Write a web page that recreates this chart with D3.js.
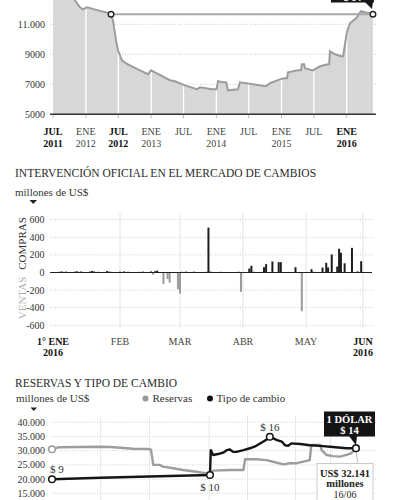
<!DOCTYPE html>
<html><head><meta charset="utf-8">
<script src="https://cdn.jsdelivr.net/npm/d3@7"></script>
<style>body{margin:0;background:#fff}svg{display:block}text{font-family:"Liberation Serif",serif;fill:#333}</style>
</head><body><svg id="c" width="400" height="500"></svg>
<script>
// ---------- Chart 1 data ----------
const topDates = ["2011-07-01","2011-10-15","2011-11-01","2011-11-29","2011-12-16","2012-01-07","2012-03-10","2012-05-15","2012-06-01","2012-06-18","2012-06-29","2012-07-21","2012-08-13","2012-10-30","2012-12-14","2012-12-31","2013-01-22","2013-04-16","2013-05-14","2013-07-09","2013-09-14","2013-10-01","2013-12-07","2014-01-02","2014-01-10","2014-02-07","2014-02-25","2014-03-07","2014-05-02","2014-05-13","2014-10-06","2014-10-28","2014-12-23","2015-01-15","2015-02-01","2015-02-06","2015-04-03","2015-04-20","2015-04-25","2015-05-08","2015-05-12","2015-06-26","2015-08-04","2015-09-18","2015-09-25","2015-09-29","2015-10-27","2015-11-30","2015-12-12","2015-12-17","2016-01-02","2016-01-19","2016-02-22","2016-03-21","2016-04-12","2016-05-27"];
const topValues = [13500,13000,12600,12130,12000,12130,11930,11730,11270,9930,9270,8600,8400,7930,7670,7930,7800,7270,7200,6930,6670,6800,6670,6670,7200,7130,7130,6600,6670,7130,6870,7070,7330,7400,7400,7800,7930,7930,8330,8330,8070,7930,8200,8330,8330,9200,9000,8870,8870,9270,10470,11070,11400,11870,11800,11670];
const topYTicks = [11000, 9000, 7000, 5000];
const topYLabels = ["11.000", "9000", "7000", "5000"];
const topXTicks = ["2011-07-01","2012-01-01","2012-07-01","2013-01-01","2013-07-01","2014-01-01","2014-07-01","2015-01-01","2015-07-01","2016-01-01"];
const topXLab1 = ["JUL","ENE","JUL","ENE","JUL","ENE","JUL","ENE","JUL","ENE"];
const topXLab2 = ["2011","2012","2012","2013","","2014","","2015","","2016"];
const topXBold = [true,false,true,false,false,false,false,false,false,true];
const topRefStart = "2012-05-21";
const topRefValue = 11670;

// ---------- Chart 2 data ----------
const interDates = ["2016-01-04","2016-01-05","2016-01-06","2016-01-07","2016-01-08","2016-01-11","2016-01-12","2016-01-13","2016-01-14","2016-01-15","2016-01-18","2016-01-19","2016-01-20","2016-01-21","2016-01-22","2016-01-25","2016-01-26","2016-01-27","2016-01-28","2016-01-29","2016-02-01","2016-02-02","2016-02-03","2016-02-04","2016-02-05","2016-02-10","2016-02-11","2016-02-12","2016-02-15","2016-02-16","2016-02-17","2016-02-18","2016-02-19","2016-02-22","2016-02-24","2016-02-25","2016-02-29","2016-03-01","2016-03-02","2016-03-03","2016-03-04","2016-03-07","2016-03-08","2016-03-09","2016-03-14","2016-03-15","2016-03-16","2016-03-18","2016-03-21","2016-03-28","2016-03-29","2016-03-30","2016-03-31","2016-04-04","2016-04-05","2016-04-06","2016-04-07","2016-04-08","2016-04-11","2016-04-12","2016-04-15","2016-04-18","2016-04-19","2016-04-20","2016-04-21","2016-04-22","2016-04-26","2016-04-29","2016-05-02","2016-05-04","2016-05-05","2016-05-06","2016-05-10","2016-05-12","2016-05-13","2016-05-15","2016-05-18","2016-05-19","2016-05-20","2016-05-22","2016-05-26","2016-05-29","2016-05-31","2016-06-03"];
const interValues = [8,12,6,10,5,9,14,7,11,6,10,18,12,5,8,6,16,10,7,4,9,6,12,5,8,7,5,10,6,12,-25,15,22,-130,-75,-115,-190,-240,8,5,10,6,9,5,8,510,10,6,8,5,6,8,-220,45,76,8,6,5,60,95,125,117,117,6,5,5,60,-440,6,38,8,6,57,110,57,205,68,270,225,105,280,12,128,5];
const interYTicks = [600,400,200,0,-200,-400,-600];
const interXTicks = ["2016-01-01","2016-02-01","2016-03-01","2016-04-01","2016-05-01","2016-06-01"];
const interXLab1 = ["1° ENE","FEB","MAR","ABR","MAY","JUN"];
const interXLab2 = ["2016","","","","","2016"];
const interXBold = [true,false,false,false,false,true];

// ---------- Chart 3 data ----------
const resDates = ["2015-06-01","2015-06-09","2015-07-31","2015-08-13","2015-09-11","2015-09-30","2015-10-03","2015-10-06","2015-10-14","2015-10-18","2015-10-31","2015-11-12","2015-11-29","2015-12-12","2015-12-16","2015-12-20","2016-01-10","2016-01-27","2016-01-29","2016-02-12","2016-02-25","2016-03-04","2016-03-17","2016-03-25","2016-04-03","2016-04-19","2016-04-21","2016-05-02","2016-05-04","2016-05-10","2016-05-18","2016-05-27","2016-06-04","2016-06-10","2016-06-16"];
const resValues = [30500,31200,31400,31300,30700,30600,30400,25000,25000,24400,23800,23200,22600,22000,21600,23000,23200,23200,27000,27000,26700,26100,25200,25600,25600,26700,32000,32000,30200,28500,28100,27900,28500,29100,30900];
const tcDates = ["2015-06-01","2015-08-01","2015-10-01","2015-12-16","2015-12-17","2015-12-20","2015-12-26","2016-01-02","2016-01-06","2016-01-10","2016-01-14","2016-01-18","2016-01-27","2016-02-04","2016-02-12","2016-02-21","2016-02-27","2016-02-29","2016-03-09","2016-03-15","2016-03-19","2016-03-23","2016-03-27","2016-04-07","2016-04-19","2016-05-02","2016-05-18","2016-06-04","2016-06-16"];
const tcValues = [9.0,9.25,9.45,9.7,13.8,13.0,13.15,13.4,13.8,13.9,13.5,13.5,13.8,14.1,14.5,15.2,15.7,16.0,15.45,15.2,14.6,14.5,14.9,14.8,14.6,14.5,14.3,14.1,14.1];
const resYTicks = [40000,35000,30000,25000,20000,15000];
const resYLabels = ["40.000","35.000","30.000","25.000","20.000","15.000"];
const resGridDates = ["2015-08-01","2015-10-01","2015-12-15","2016-02-01","2016-04-01","2016-05-15"];

const parse = d3.timeParse("%Y-%m-%d");
const svg = d3.select("#c");

// ================= Chart 1 =================
const x1 = d3.scaleTime().domain([parse("2011-07-01"), parse("2016-01-01")]).range([53, 346.7]);
const y1 = d3.scaleLinear().domain([5000, 11000]).range([114.3, 24.3]);
const topData = topDates.map((d, i) => ({date: parse(d), v: topValues[i]}));
const g1 = svg.append("g");
g1.selectAll(".hg").data(topYTicks.slice(0, 3)).join("line")
  .attr("x1", 50).attr("x2", 376).attr("y1", d => y1(d)).attr("y2", d => y1(d))
  .attr("stroke", "#c8c8c8").attr("stroke-dasharray", "1,1.5").attr("stroke-width", 1);
g1.append("path").datum(topData)
  .attr("d", d3.area().x(d => x1(d.date)).y0(y1(5000)).y1(d => y1(d.v)))
  .attr("fill", "#d7d7d7");
g1.selectAll(".vg").data(topXTicks.slice(1)).join("line")
  .attr("x1", d => x1(parse(d))).attr("x2", d => x1(parse(d)))
  .attr("y1", 0).attr("y2", y1(5000))
  .attr("stroke", "#fff").attr("stroke-width", 1.3);
g1.append("path").datum(topData)
  .attr("d", d3.line().x(d => x1(d.date)).y(d => y1(d.v)))
  .attr("fill", "none").attr("stroke", "#9c9c9c").attr("stroke-width", 2);
g1.append("line").attr("x1", 50).attr("x2", 376).attr("y1", y1(5000)).attr("y2", y1(5000))
  .attr("stroke", "#333").attr("stroke-width", 1.5);
g1.selectAll(".tk").data(topXTicks).join("line")
  .attr("x1", d => x1(parse(d))).attr("x2", d => x1(parse(d)))
  .attr("y1", y1(5000) + 1).attr("y2", y1(5000) + 4).attr("stroke", "#bbb");
g1.selectAll(".yl").data(topYTicks).join("text")
  .attr("x", 45).attr("y", d => y1(d)).attr("dy", "0.35em").attr("text-anchor", "end")
  .attr("font-size", 10).text((d, i) => topYLabels[i]);
const xl1 = g1.selectAll(".xl").data(topXTicks).join("text")
  .attr("text-anchor", "middle").attr("font-size", 10)
  .attr("font-weight", (d, i) => topXBold[i] ? "bold" : "normal")
  .style("fill", (d, i) => topXBold[i] ? "#111" : "#444");
xl1.append("tspan").attr("x", d => x1(parse(d))).attr("y", 135).text((d, i) => topXLab1[i]);
xl1.append("tspan").attr("x", d => x1(parse(d))).attr("y", 146.5).text((d, i) => topXLab2[i]);
const rs = parse(topRefStart), re = parse(topDates[topDates.length - 1]);
g1.append("line").attr("x1", x1(rs)).attr("x2", x1(re)).attr("y1", y1(topRefValue)).attr("y2", y1(topRefValue))
  .attr("stroke", "#a8a8a8").attr("stroke-width", 1.8);
[rs, re].forEach(d => g1.append("circle").attr("cx", x1(d)).attr("cy", y1(topRefValue)).attr("r", 2.8)
  .attr("fill", "#fff").attr("stroke", "#222").attr("stroke-width", 1.4));
const bx = x1(re);
g1.append("rect").attr("x", bx - 42).attr("y", -22).attr("width", 43).attr("height", 24.5).attr("fill", "#161616");
g1.append("path").attr("d", `M${bx-8},2 L${bx},2 L${bx-1},9 Z`).attr("fill", "#161616");
g1.append("text").attr("x", bx - 20.5).attr("y", 1).attr("text-anchor", "middle").attr("font-size", 10)
  .attr("font-weight", "bold").style("fill", "#fff").text("$ 14");

// ================= Chart 2 =================
const x2 = d3.scaleTime().domain(interXTicks.map(parse).concat([parse("2016-06-07")]))
  .range([53, 120, 180, 243, 306, 363, 374]);
const y2 = d3.scaleLinear().domain([-600, 600]).range([325.3, 219.7]);
const g2 = svg.append("g");
g2.append("text").attr("x", 15).attr("y", 177).attr("font-size", 11.5).style("fill", "#2a2a2a")
  .text("INTERVENCIÓN OFICIAL EN EL MERCADO DE CAMBIOS");
g2.append("text").attr("x", 15).attr("y", 196).attr("font-size", 11).style("fill", "#333").text("millones de US$");
g2.append("path").attr("d", "M29.5,200 L37,200 L33.25,204 Z").attr("fill", "#222");
g2.selectAll(".hg").data(interYTicks.filter(d => d !== 0)).join("line")
  .attr("x1", 50).attr("x2", 375).attr("y1", d => y2(d)).attr("y2", d => y2(d))
  .attr("stroke", "#cfcfcf").attr("stroke-dasharray", "1,1.5");
g2.selectAll(".vg").data(interXTicks.slice(1)).join("line")
  .attr("x1", d => x2(parse(d))).attr("x2", d => x2(parse(d))).attr("y1", 213).attr("y2", 329)
  .attr("stroke", "#e4e4e4").attr("stroke-width", 1);
g2.selectAll(".yl").data(interYTicks).join("text")
  .attr("x", 44.5).attr("y", d => y2(d)).attr("dy", "0.35em").attr("text-anchor", "end")
  .attr("font-size", 10).text(d => d);
g2.append("text").attr("transform", "translate(25.5,243.5) rotate(-90)").attr("text-anchor", "middle")
  .attr("font-size", 11).style("fill", "#333").text("COMPRAS");
g2.append("text").attr("transform", "translate(25.5,298) rotate(-90)").attr("text-anchor", "middle")
  .attr("font-size", 11).style("fill", "#b0b0b0").text("VENTAS");
const interData = interDates.map((d, i) => ({date: parse(d), v: interValues[i]}));
g2.selectAll(".bar").data(interData).join("rect")
  .attr("x", d => x2(d.date) - 1).attr("width", 2)
  .attr("y", d => Math.min(y2(d.v), y2(0))).attr("height", d => Math.abs(y2(d.v) - y2(0)))
  .attr("fill", d => d.v >= 0 ? "#1e1e1e" : "#9a9a9a");
g2.append("line").attr("x1", 50).attr("x2", 372).attr("y1", y2(0)).attr("y2", y2(0))
  .attr("stroke", "#222").attr("stroke-width", 1.2);
const xl2 = g2.selectAll(".xl").data(interXTicks).join("text")
  .attr("text-anchor", "middle").attr("font-size", 10)
  .attr("font-weight", (d, i) => interXBold[i] ? "bold" : "normal")
  .style("fill", (d, i) => interXBold[i] ? "#111" : "#444");
xl2.append("tspan").attr("x", d => x2(parse(d))).attr("y", 345).text((d, i) => interXLab1[i]);
xl2.append("tspan").attr("x", d => x2(parse(d))).attr("y", 356).text((d, i) => interXLab2[i]);

// ================= Chart 3 =================
const x3 = d3.scaleTime().domain([parse("2015-06-01"), parse("2016-06-16")]).range([52, 356]);
const y3 = d3.scaleLinear().domain([15000, 40000]).range([493.3, 422.3]);
const yTC = d3.scaleLinear().domain([9, 16]).range([479.3, 436.7]);
const g3 = svg.append("g");
g3.append("text").attr("x", 15).attr("y", 387).attr("font-size", 11.5).style("fill", "#2a2a2a")
  .text("RESERVAS Y TIPO DE CAMBIO");
g3.append("text").attr("x", 16).attr("y", 402).attr("font-size", 11).text("millones de US$");
g3.append("path").attr("d", "M30.5,407.5 L37,407.5 L33.75,411 Z").attr("fill", "#222");
g3.append("circle").attr("cx", 145.5).attr("cy", 398.5).attr("r", 3).attr("fill", "#999");
g3.append("text").attr("x", 152.5).attr("y", 402).attr("font-size", 11).text("Reservas");
g3.append("circle").attr("cx", 210).attr("cy", 398.5).attr("r", 3).attr("fill", "#111");
g3.append("text").attr("x", 216.5).attr("y", 402).attr("font-size", 11).text("Tipo de cambio");
g3.selectAll(".hg").data(resYTicks).join("line")
  .attr("x1", 52).attr("x2", 376).attr("y1", d => y3(d)).attr("y2", d => y3(d))
  .attr("stroke", "#d0d0d0").attr("stroke-dasharray", "1,1.5");
g3.selectAll(".vg").data(resGridDates).join("line")
  .attr("x1", d => x3(parse(d))).attr("x2", d => x3(parse(d))).attr("y1", 416).attr("y2", 500)
  .attr("stroke", "#e6e6e6");
g3.selectAll(".yl").data(resYTicks).join("text")
  .attr("x", 45).attr("y", d => y3(d)).attr("dy", "0.35em").attr("text-anchor", "end")
  .attr("font-size", 10).text((d, i) => resYLabels[i]);
const resData = resDates.map((d, i) => ({date: parse(d), v: resValues[i]}));
const tcData = tcDates.map((d, i) => ({date: parse(d), v: tcValues[i]}));
g3.append("path").datum(resData).attr("d", d3.line().x(d => x3(d.date)).y(d => y3(d.v)))
  .attr("fill", "none").attr("stroke", "#9d9d9d").attr("stroke-width", 2.4).attr("stroke-linejoin", "round");
g3.append("path").datum(tcData).attr("d", d3.line().x(d => x3(d.date)).y(d => yTC(d.v)))
  .attr("fill", "none").attr("stroke", "#151515").attr("stroke-width", 2.4).attr("stroke-linejoin", "round");
const lastRes = resData[resData.length - 1], lastTc = tcData[tcData.length - 1];
g3.append("line").attr("x1", x3(lastRes.date)).attr("x2", x3(lastRes.date) + 2)
  .attr("y1", y3(lastRes.v) + 3).attr("y2", 464).attr("stroke", "#bbb").attr("stroke-width", 1);
g3.append("circle").attr("cx", x3(resData[0].date)).attr("cy", y3(resData[0].v)).attr("r", 3.3)
  .attr("fill", "#fff").attr("stroke", "#999").attr("stroke-width", 1.5);
g3.append("circle").attr("cx", x3(lastRes.date)).attr("cy", y3(lastRes.v)).attr("r", 3.3)
  .attr("fill", "#fff").attr("stroke", "#aaa").attr("stroke-width", 1.5);
const tcMarks = [0, 3, 17, tcData.length - 1];
g3.selectAll(".tcc").data(tcMarks.map(i => tcData[i])).join("circle")
  .attr("cx", d => x3(d.date)).attr("cy", d => yTC(d.v)).attr("r", 3.3)
  .attr("fill", "#fff").attr("stroke", "#151515").attr("stroke-width", 1.5);
const tcLab = [["$ 9", 0, -6, "start", -2], ["$ 10", 3, 16, "middle", 0], ["$ 16", 17, -6, "middle", 0]];
tcLab.forEach(([t, i, dy, anchor, dx]) => {
  g3.append("text").attr("x", x3(tcData[i].date) + dx).attr("y", yTC(tcData[i].v) + dy)
    .attr("text-anchor", anchor).attr("font-size", 11).style("fill", "#333").text(t);
});
const ex = x3(lastTc.date), ey = yTC(lastTc.v);
g3.append("rect").attr("x", ex - 32).attr("y", 411.5).attr("width", 51).attr("height", 25).attr("fill", "#141414");
g3.append("path").attr("d", `M${ex-7},436 L${ex+1},436 L${ex},${ey-3} Z`).attr("fill", "#141414");
g3.append("text").attr("x", ex - 6.5).attr("y", 422.5).attr("text-anchor", "middle").attr("font-size", 10.5)
  .attr("font-weight", "bold").style("fill", "#fff").text("1 DÓLAR");
g3.append("text").attr("x", ex - 6.5).attr("y", 434).attr("text-anchor", "middle").attr("font-size", 10.5)
  .attr("font-weight", "bold").style("fill", "#fff").text("$ 14");
g3.append("rect").attr("x", ex - 39).attr("y", 463.5).attr("width", 56).attr("height", 45)
  .attr("fill", "#fff").attr("stroke", "#bdbdbd").attr("stroke-width", 0.8);
g3.append("text").attr("x", ex - 11).attr("y", 476.5).attr("text-anchor", "middle").attr("font-size", 10.5)
  .attr("font-weight", "bold").style("fill", "#222").text("US$ 32.141");
g3.append("text").attr("x", ex - 11).attr("y", 487).attr("text-anchor", "middle").attr("font-size", 10.5)
  .attr("font-weight", "bold").style("fill", "#222").text("millones");
g3.append("text").attr("x", ex - 11).attr("y", 497.5).attr("text-anchor", "middle").attr("font-size", 10)
  .style("fill", "#222").text("16/06");
</script></body></html>
